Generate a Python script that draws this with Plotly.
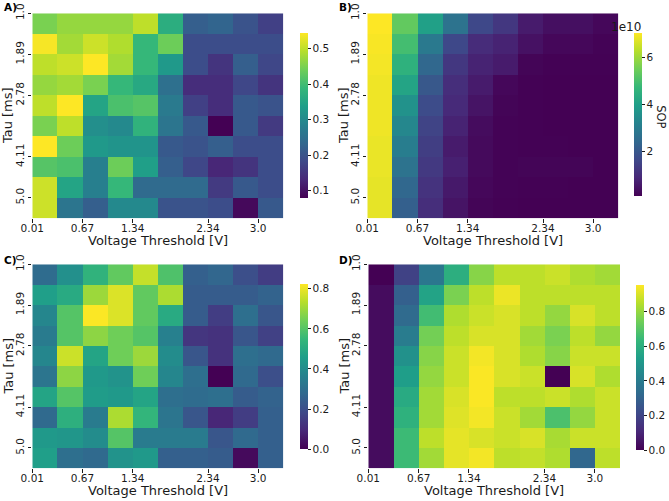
import plotly.graph_objects as go

W, H = 669, 501

voltage_labels = ["0.01", "0.67", "1.34", "2.34", "3.0"]
tau_labels = ["1.0", "1.89", "2.78", "4.11", "5.0"]
label_idx = [0, 2, 4, 7, 9]

# Panel A (rows: tau top->bottom, cols: voltage left->right)
A_vals = [
    [0.45, 0.47, 0.47, 0.47, 0.50, 0.37, 0.22, 0.23, 0.20, 0.17],
    [0.54, 0.48, 0.51, 0.49, 0.39, 0.44, 0.19, 0.19, 0.19, 0.19],
    [0.50, 0.51, 0.55, 0.48, 0.39, 0.33, 0.19, 0.15, 0.22, 0.18],
    [0.47, 0.48, 0.45, 0.39, 0.36, 0.25, 0.14, 0.14, 0.18, 0.15],
    [0.50, 0.545, 0.35, 0.41, 0.42, 0.27, 0.17, 0.14, 0.21, 0.20],
    [0.45, 0.50, 0.31, 0.30, 0.38, 0.26, 0.21, 0.08, 0.21, 0.16],
    [0.545, 0.44, 0.33, 0.32, 0.32, 0.21, 0.20, 0.22, 0.19, 0.19],
    [0.42, 0.41, 0.28, 0.44, 0.34, 0.22, 0.18, 0.13, 0.15, 0.19],
    [0.51, 0.35, 0.28, 0.39, 0.24, 0.24, 0.24, 0.16, 0.21, 0.19],
    [0.51, 0.26, 0.22, 0.30, 0.30, 0.20, 0.20, 0.19, 0.09, 0.21],
]

# Panel B: SOP in units of 1e10
B_vals = [
    [7.00, 5.3, 4.0, 2.7, 1.6, 1.2, 0.60, 0.35, 0.35, 0.20],
    [6.95, 4.9, 2.9, 1.6, 0.95, 0.75, 0.40, 0.20, 0.20, 0.12],
    [6.90, 4.5, 2.4, 1.2, 0.75, 0.60, 0.15, 0.10, 0.10, 0.10],
    [6.85, 4.1, 2.0, 1.0, 0.60, 0.20, 0.10, 0.08, 0.08, 0.08],
    [6.85, 3.6, 1.7, 0.90, 0.45, 0.15, 0.10, 0.08, 0.08, 0.08],
    [6.85, 3.3, 1.5, 0.75, 0.30, 0.12, 0.10, 0.08, 0.08, 0.08],
    [6.80, 3.0, 1.35, 0.60, 0.25, 0.12, 0.10, 0.10, 0.08, 0.08],
    [6.80, 2.7, 1.25, 0.70, 0.25, 0.12, 0.15, 0.15, 0.15, 0.08],
    [6.75, 2.4, 1.1, 0.55, 0.20, 0.12, 0.10, 0.10, 0.08, 0.08],
    [6.75, 2.2, 1.0, 0.45, 0.15, 0.10, 0.08, 0.08, 0.08, 0.08],
]

C_vals = [
    [0.29, 0.41, 0.53, 0.62, 0.75, 0.59, 0.25, 0.27, 0.20, 0.15],
    [0.46, 0.50, 0.70, 0.78, 0.62, 0.72, 0.24, 0.24, 0.24, 0.26],
    [0.38, 0.60, 0.82, 0.78, 0.62, 0.50, 0.24, 0.15, 0.30, 0.22],
    [0.34, 0.60, 0.68, 0.64, 0.60, 0.36, 0.13, 0.12, 0.22, 0.16],
    [0.38, 0.76, 0.48, 0.64, 0.70, 0.40, 0.22, 0.12, 0.30, 0.28],
    [0.32, 0.68, 0.44, 0.42, 0.64, 0.38, 0.30, 0.00, 0.28, 0.20],
    [0.48, 0.60, 0.45, 0.44, 0.48, 0.30, 0.29, 0.30, 0.24, 0.26],
    [0.28, 0.52, 0.34, 0.72, 0.54, 0.32, 0.22, 0.09, 0.15, 0.25],
    [0.44, 0.43, 0.40, 0.60, 0.34, 0.34, 0.34, 0.22, 0.28, 0.25],
    [0.46, 0.30, 0.28, 0.42, 0.44, 0.25, 0.25, 0.24, 0.02, 0.25],
]

D_vals = [
    [0.00, 0.19, 0.38, 0.60, 0.78, 0.86, 0.86, 0.88, 0.84, 0.82],
    [0.03, 0.29, 0.55, 0.76, 0.86, 0.93, 0.86, 0.86, 0.86, 0.86],
    [0.03, 0.33, 0.66, 0.84, 0.88, 0.90, 0.86, 0.80, 0.90, 0.86],
    [0.03, 0.40, 0.75, 0.86, 0.90, 0.90, 0.82, 0.76, 0.86, 0.80],
    [0.03, 0.48, 0.78, 0.88, 0.94, 0.90, 0.84, 0.78, 0.88, 0.88],
    [0.03, 0.53, 0.80, 0.88, 0.95, 0.90, 0.88, 0.00, 0.90, 0.84],
    [0.03, 0.58, 0.82, 0.90, 0.95, 0.86, 0.86, 0.88, 0.84, 0.88],
    [0.03, 0.61, 0.82, 0.91, 0.94, 0.88, 0.82, 0.68, 0.80, 0.88],
    [0.03, 0.65, 0.86, 0.92, 0.90, 0.88, 0.90, 0.83, 0.88, 0.88],
    [0.03, 0.65, 0.82, 0.92, 0.94, 0.86, 0.87, 0.84, 0.32, 0.86],
]

def px_x(v):
    return v / W

def px_y(v):
    return 1 - v / H

panels = [
    dict(name="A)", z=A_vals, box=(32.3, 283.3, 13.3, 218.3), cb=(300, 308.3, 32.7, 197.7),
         zmin=0.08, zmax=0.545, tv=[0.1, 0.2, 0.3, 0.4, 0.5], tt=["0.1", "0.2", "0.3", "0.4", "0.5"], lab=(1.5, 7.5)),
    dict(name="B)", z=B_vals, box=(367.3, 618.3, 13.3, 218.3), cb=(634.3, 642.3, 33.3, 196.7),
         zmin=0.08, zmax=7.0, tv=[2, 4, 6], tt=["2", "4", "6"], lab=(336.5, 7.5)),
    dict(name="C)", z=C_vals, box=(32.3, 283.3, 264.3, 468.3), cb=(300, 308.3, 284.3, 449),
         zmin=0.0, zmax=0.823, tv=[0.0, 0.2, 0.4, 0.6, 0.8], tt=["0.0", "0.2", "0.4", "0.6", "0.8"], lab=(1.5, 259.5)),
    dict(name="D)", z=D_vals, box=(368.3, 620, 264.3, 468.3), cb=(635.7, 644, 285, 450),
         zmin=0.0, zmax=0.955, tv=[0.0, 0.2, 0.4, 0.6, 0.8], tt=["0.0", "0.2", "0.4", "0.6", "0.8"], lab=(336.5, 259.5)),
]

fig = go.Figure()
annotations = []
layout = {}
font_family = "DejaVu Sans"
dark = "#1a1a1a"
n = 10
centers = [i + 0.5 for i in range(n)]

for k, p in enumerate(panels, start=1):
    xa = "x" if k == 1 else f"x{k}"
    ya = "y" if k == 1 else f"y{k}"
    x0, x1, yt, yb = p["box"]
    cx0, cx1, cyt, cyb = p["cb"]
    fig.add_trace(go.Heatmap(
        z=p["z"], x=centers, y=centers, xaxis=xa, yaxis=ya,
        colorscale="Viridis", zmin=p["zmin"], zmax=p["zmax"],
        xgap=0, ygap=0,
        colorbar=dict(
            x=px_x(cx0), xanchor="left", xpad=0, ypad=0,
            y=px_y((cyt + cyb) / 2), yanchor="middle",
            thicknessmode="pixels", thickness=cx1 - cx0,
            lenmode="pixels", len=cyb - cyt,
            outlinewidth=0,
            tickvals=p["tv"], ticktext=p["tt"],
            ticks="outside", ticklen=3, tickwidth=0.8, tickcolor=dark,
            tickfont=dict(family=font_family, size=10.5, color=dark),
        ),
    ))
    xkey = "xaxis" if k == 1 else f"xaxis{k}"
    ykey = "yaxis" if k == 1 else f"yaxis{k}"
    layout[xkey] = dict(
        domain=[px_x(x0), px_x(x1)], anchor=ya, range=[0, n], automargin=False,
        tickvals=label_idx, ticktext=voltage_labels,
        ticks="outside", ticklen=3.5, tickwidth=0.8, tickcolor=dark,
        ticklabelstandoff=-3,
        tickfont=dict(family=font_family, size=10.5, color=dark),
        showgrid=False, zeroline=False, showline=False,
    )
    layout[ykey] = dict(
        domain=[px_y(yb), px_y(yt)], anchor=xa, range=[n, 0], automargin=False,
        tickvals=label_idx, ticktext=tau_labels, tickangle=-90,
        ticks="outside", ticklen=3.5, tickwidth=0.8, tickcolor=dark,
        tickfont=dict(family=font_family, size=10.5, color=dark),
        showgrid=False, zeroline=False, showline=False,
    )
    annotations.append(dict(
        text="Voltage Threshold [V]", xref="paper", yref="paper",
        x=px_x((x0 + x1) / 2), y=px_y(yb + 22.5), xanchor="center", yanchor="middle",
        showarrow=False, font=dict(family=font_family, size=13, color=dark),
    ))
    annotations.append(dict(
        text="Tau [ms]", xref="paper", yref="paper", textangle=-90,
        x=px_x(x0 - 24), y=px_y((yt + yb) / 2), xanchor="center", yanchor="middle",
        showarrow=False, font=dict(family=font_family, size=13, color=dark),
    ))
    lx, ly = p["lab"]
    annotations.append(dict(
        text="<b>" + p["name"] + "</b>", xref="paper", yref="paper",
        x=px_x(lx), y=px_y(ly), xanchor="left", yanchor="middle",
        showarrow=False, font=dict(family=font_family, size=10.5, color="black"),
    ))

annotations.append(dict(
    text="1e10", xref="paper", yref="paper",
    x=px_x(642.5), y=px_y(27), xanchor="right", yanchor="middle",
    showarrow=False, font=dict(family=font_family, size=12, color=dark),
))
annotations.append(dict(
    text="SOP", xref="paper", yref="paper", textangle=90,
    x=px_x(661.5), y=px_y(116.7), xanchor="center", yanchor="middle",
    showarrow=False, font=dict(family=font_family, size=11.5, color=dark),
))

fig.update_layout(
    template="none",
    width=W, height=H,
    margin=dict(l=0, r=0, t=0, b=0, pad=0, autoexpand=False),
    paper_bgcolor="white", plot_bgcolor="white",
    showlegend=False,
    annotations=annotations,
    **layout,
)

fig.write_html("out.html")
